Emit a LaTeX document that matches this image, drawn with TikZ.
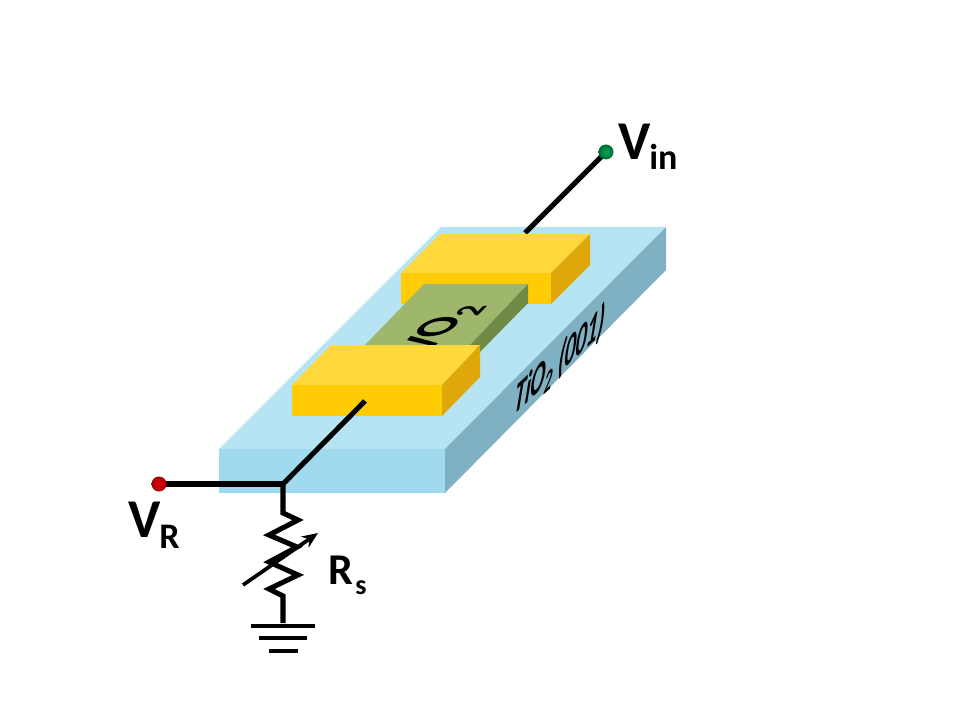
\documentclass[tikz,border=0pt]{standalone}
\usepackage{fontspec}
\setmainfont{Carlito}
\usetikzlibrary{arrows.meta}
\definecolor{subtop}{HTML}{B7E4F3}
\definecolor{subfront}{HTML}{A0DAEE}
\definecolor{subside}{HTML}{80B1C3}
\definecolor{padtop}{HTML}{FFD83B}
\definecolor{padfront}{HTML}{FFCC06}
\definecolor{padside}{HTML}{DFA80A}
\definecolor{vtop}{HTML}{9FB76C}
\definecolor{vside}{HTML}{6F8A45}
\definecolor{gin}{HTML}{00A651}
\definecolor{gout}{HTML}{006B3A}
\definecolor{rin}{HTML}{E8000B}
\definecolor{rout}{HTML}{A00008}
\tikzset{
  wire/.style={line width=3.8pt,black,line cap=butt,line join=miter},
  gnd/.style={line width=3.2pt,black},
  lbl/.style={font=\bfseries\fontsize{41}{41}\selectfont,inner sep=0pt,anchor=base west},
  sublbl/.style={font=\bfseries\fontsize{27}{27}\selectfont,inner sep=0pt,anchor=base west},
}
\begin{document}
\begin{tikzpicture}[x=0.75pt,y=-0.75pt]
\useasboundingbox (0,0) rectangle (960,720);
\fill[white] (0,0) rectangle (960,720);
% substrate
\fill[subtop] (219,449)--(445,449)--(666,227)--(441,227)--cycle;
\fill[subfront] (219,449)--(445,449)--(445,493)--(219,493)--cycle;
\fill[subside] (445,449)--(666,227)--(666,270)--(445,493)--cycle;
\node[inner sep=0pt,anchor=center,cm={0.71,0.65,0.17,1.5,(560,361)}] (tio) at (0,0) {\bfseries\itshape\fontsize{23}{23}\selectfont TiO\textsubscript{2} (001)};
% wire in
\coordinate (vin) at (606,152);
\coordinate (vintail) at (525,233);
\draw[wire] (vin)--(vintail);
% far pad
\fill[padtop] (401,273)--(551,273)--(590,234)--(440,234)--cycle;
\fill[padfront] (401,273)--(551,273)--(551,304)--(401,304)--cycle;
\fill[padside] (551,273)--(590,234)--(590,265)--(551,304)--cycle;
% VO2
\fill[vtop] (365,345)--(424,284)--(528,284)--(470,345)--cycle;
\fill[vside] (470,345)--(528,284)--(528,303)--(480,352)--cycle;
\node[inner sep=0pt,anchor=base west,cm={0.64,0.64,-1.1,0,(427,355)}] (vo) at (0,0) {\bfseries\fontsize{36}{36}\selectfont VO\textsubscript{2}};
% near pad
\fill[padtop] (292,385)--(442,385)--(480,345)--(331,345)--cycle;
\fill[padfront] (292,385)--(442,385)--(442,416)--(292,416)--cycle;
\fill[padside] (442,385)--(480,345)--(480,377)--(442,416)--cycle;
% wires
\coordinate (j) at (283,484);
\coordinate (vr) at (159,484);
\coordinate (padin) at (365,401);
\draw[wire] (vr)--(j);
\draw[wire] (padin)--(j);
\coordinate (rs) at (283,623);
\draw[wire] (283,483)--(283,513)--(298,520)--(269,535)--(297,547)--(269,562)--(298,575)--(269,589)--(283,596)--(rs);
\draw[line width=2.8pt,-{Stealth[length=12pt,width=10pt]}] (243,585)--(318,533);
% ground
\draw[gnd] (251,626)--(315,626);
\draw[gnd] (259,638)--(307,638);
\draw[gnd] (269,651)--(298,651);
% terminals
\shade[inner color=gin,outer color=gout] (vin) circle (7.5);
\shade[inner color=rin,outer color=rout] (vr) circle (7.5);
% labels
\node[lbl] (vl1) at (618,160) {V};
\node[sublbl] (vl2) at (649,170) {in};
\node[lbl] (vr1) at (128,537) {V};
\node[sublbl] (vr2) at (159,548) {R};
\node[font=\bfseries\fontsize{33}{33}\selectfont,inner sep=0pt,anchor=base west] (rs1) at (328,584) {R};
\node[font=\bfseries\fontsize{21}{21}\selectfont,inner sep=0pt,anchor=base west] (rs2) at (355,594) {s};
\end{tikzpicture}
\end{document}
